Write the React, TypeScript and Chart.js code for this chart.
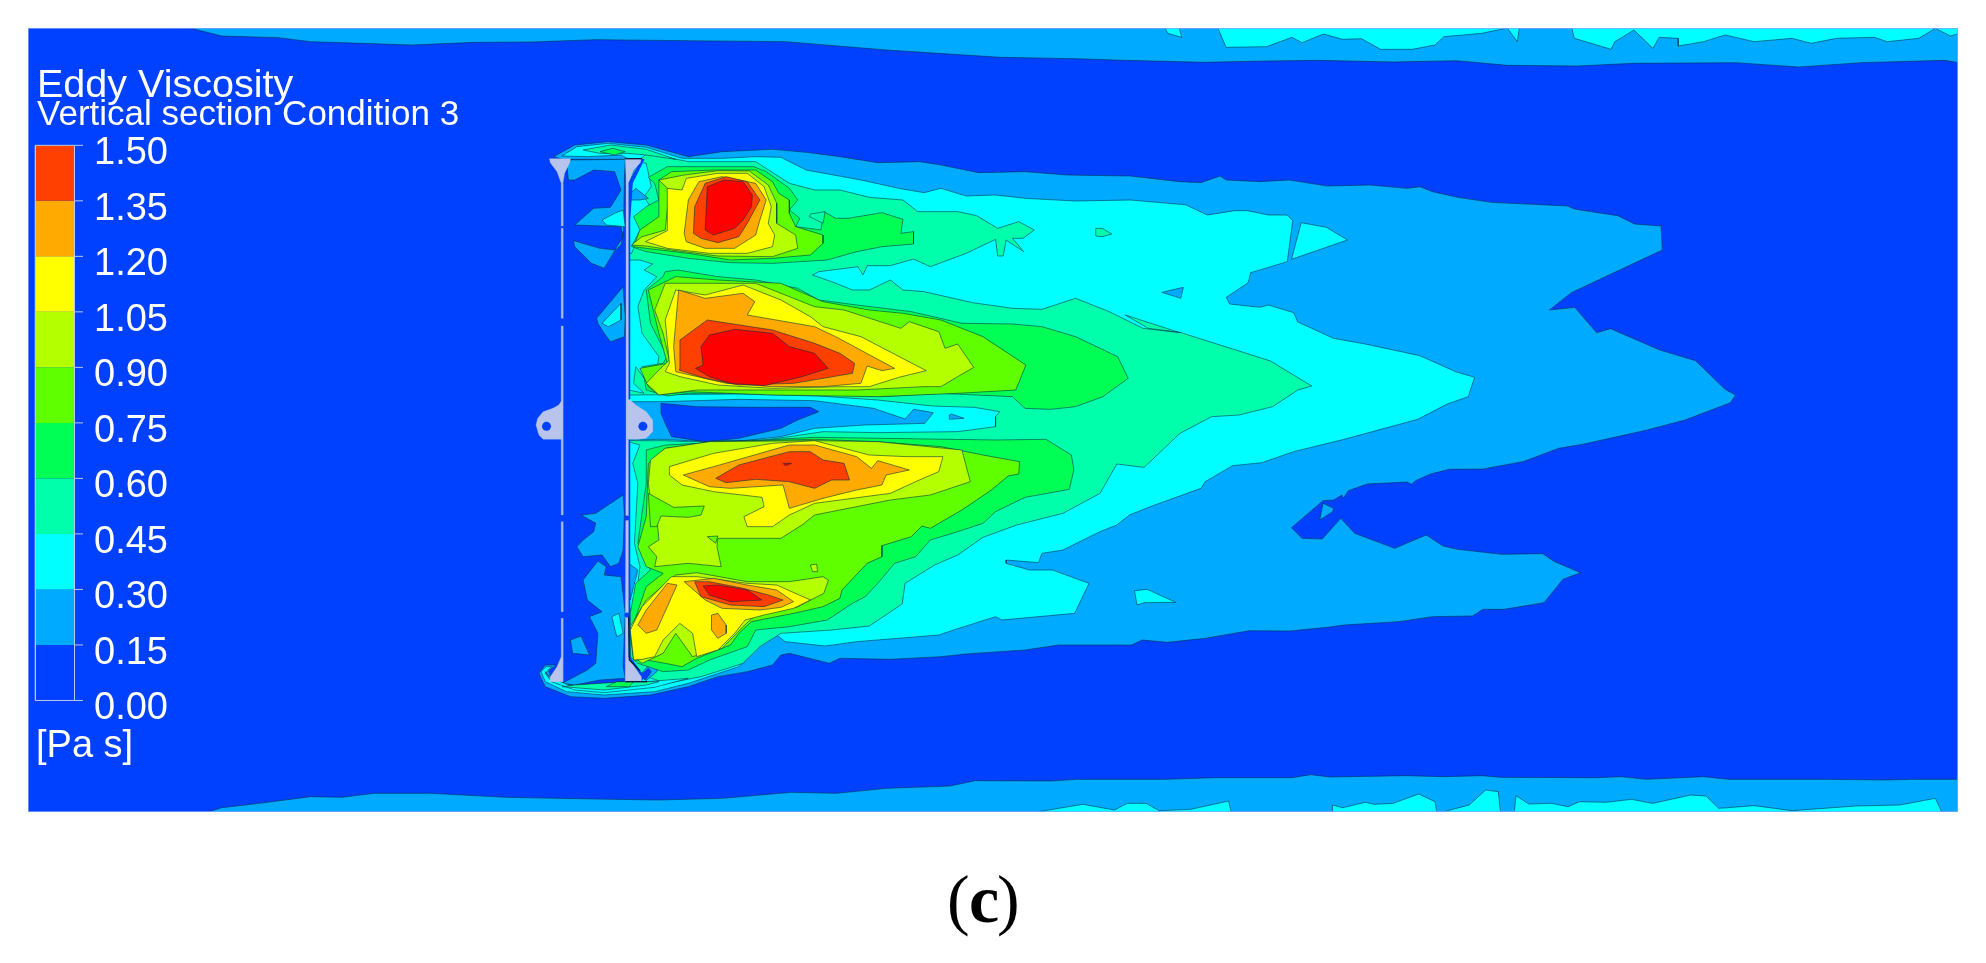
import React, { useEffect, useRef } from "react";
import { Chart, registerables } from "chart.js";

Chart.register(...registerables);

// ---------- colour legend ----------
const legendLevels = [0.0, 0.15, 0.3, 0.45, 0.6, 0.75, 0.9, 1.05, 1.2, 1.35, 1.5];
const legendTicks = ["0.00", "0.15", "0.30", "0.45", "0.60", "0.75", "0.90", "1.05", "1.20", "1.35", "1.50"];
const legendColors = ["#0040ff", "#00aaff", "#00ffff", "#00ffaa", "#00ff55", "#5fff00", "#b4ff00", "#ffff00", "#ffaa00", "#ff4000"];
const coreColor = "#ff0000";
const titleText = "Eddy Viscosity";
const subtitleText = "Vertical section Condition 3";
const unitText = "[Pa s]";

// ---------- contour outlines in the field's plane ----------
type P = number[];
const pairs = (a: P, fx: (x: number) => number, fy: (y: number) => number) => {
  const out: { x: number; y: number }[] = [];
  for (let i = 0; i < a.length; i += 2) out.push({ x: fx(a[i]), y: fy(a[i + 1]) });
  return out;
};
const A = (a: P) => pairs(a, (x) => 520 + x / 2.376, (y) => 120 + y / 3);
const B = (a: P) => pairs(a, (x) => 520 + x / 2.376, (y) => 400 + y / 3);
const C = (a: P) => pairs(a, (x) => 1100 + x / 2.376, (y) => 150 + y / 3);
const T = (a: P) => pairs(a, (x) => x * 1.26658, (y) => y / 3);
const U = (a: P) => pairs(a, (x) => x * 1.26658, (y) => 740 + y / 3);

const stripTop = [150,70, 150,84, 175,108, 220,113, 245,125, 285,130, 325,135, 375,127, 420,126, 470,119, 540,122, 620,125, 700,150, 790,172, 850,176, 880,180, 950,187, 1000,183, 1040,181, 1100,186, 1150,182, 1190,196, 1245,198, 1290,190, 1370,188, 1420,201, 1470,188, 1535,181, 1547,188, 1555,188, 1555,70];
const stripTopCyan1 = [918,70, 922,100, 933,112, 930,70];
const stripTopCyan2 = [960,70, 968,142, 1000,140, 1020,112, 1028,128, 1045,102, 1060,118, 1075,116, 1090,148, 1115,148, 1133,135, 1140,110, 1170,100, 1190,84, 1198,125, 1200,70];
const stripTopCyan3 = [1240,70, 1243,115, 1272,148, 1275,125, 1290,90, 1305,145, 1310,112, 1325,115, 1325,138, 1345,125, 1362,105, 1385,125, 1400,120, 1415,115, 1430,130, 1450,115, 1480,112, 1490,125, 1515,115, 1528,85, 1540,108, 1547,100, 1555,100, 1555,70];
const stripBottom = [165,232, 165,215, 175,203, 205,190, 245,170, 270,172, 295,160, 340,160, 400,172, 470,177, 520,180, 570,175, 625,157, 660,160, 700,145, 750,138, 770,122, 830,123, 850,118, 920,118, 960,113, 1020,113, 1035,104, 1050,111, 1110,107, 1140,110, 1170,107, 1185,112, 1260,113, 1280,110, 1300,118, 1345,110, 1365,118, 1440,118, 1490,120, 1510,118, 1555,118, 1555,232];
const stripBottomCyan1 = [820,232, 820,215, 855,193, 880,210, 890,190, 905,190, 915,212, 940,208, 970,183, 973,232];
const stripBottomCyan2 = [1052,232, 1052,195, 1060,203, 1078,187, 1085,193, 1100,190, 1120,162, 1133,185, 1135,232];
const stripBottomCyan3 = [1140,232, 1140,215, 1160,195, 1173,150, 1183,155, 1185,232];
const stripBottomCyan4 = [1195,232, 1197,167, 1207,192, 1225,190, 1238,200, 1247,185, 1268,187, 1288,178, 1305,190, 1335,165, 1347,168, 1357,205, 1385,197, 1415,212, 1465,198, 1500,195, 1528,175, 1535,232];

const band1Upper = [80,110, 130,75, 210,65, 300,75, 400,110, 480,95, 600,88, 680,97, 760,110, 850,128, 950,125, 1000,135, 1090,158, 1200,155, 1300,165, 1450,168, 1568,185];
const band1Far = [190,95, 240,98, 285,78, 300,90, 380,95, 450,90, 540,108, 640,105, 730,115, 760,110, 790,125, 850,142, 930,157, 1110,168, 1130,178, 1230,197, 1270,222, 1333,228, 1336,300, 1260,345, 1120,428, 1068,480, 1128,472, 1180,548, 1213,536, 1330,600, 1415,632, 1485,718, 1510,735, 1498,758, 1390,810, 1300,840, 1150,882, 1090,895, 1005,935, 910,957, 830,958, 785,972, 750,992, 740,1003, 730,996, 635,1002, 590,1022, 578,1045, 575,1035, 555,1050, 530,1052, 455,1133, 480,1165, 528,1167, 572,1105, 605,1150, 700,1195, 775,1155, 815,1188, 850,1198, 955,1213, 1052,1211, 1080,1235, 1142,1268, 1100,1288, 1055,1358, 960,1378, 910,1378, 885,1398, 790,1400, 710,1415, 580,1425, 540,1432, 450,1443, 355,1442, 250,1465, 160,1477, 100,1470, 75,1485, 0,1485];
const band1Lower = [1280,735, 1200,750, 1060,762, 1000,770, 880,778, 760,775, 735,790, 640,760, 620,765, 600,795, 540,815, 470,830, 400,860, 310,885, 200,895, 120,890, 60,860, 45,820, 60,795, 85,795, 68,812, 75,840, 120,855, 250,848, 258,845, 258,125];
const band1Close = [258,830, 258,118, 100,118];

const band2Upper = [100,108, 135,80, 210,70, 300,82, 385,115, 480,115, 560,110, 620,112, 680,150, 810,180, 900,205, 960,218, 1000,205, 1060,228, 1130,225, 1200,235, 1320,243, 1450,240, 1568,253];
const band2Far = [190,162, 205,165, 255,195, 320,182, 350,182, 400,195, 445,195, 458,212, 445,335, 358,368, 352,398, 300,442, 308,462, 380,472, 400,465, 460,488, 470,516, 555,565, 630,582, 760,617, 845,665, 890,682, 875,740, 825,762, 755,808, 580,868, 460,905, 385,938, 315,947, 250,995, 240,1015, 130,1065, 70,1095, 40,1125, 0,1145];
const band2Lower = [1290,450, 1240,460, 1232,488, 1155,480, 1155,490, 1210,510, 1265,510, 1352,550, 1318,640, 1145,660, 1130,650, 1030,690, 995,705, 800,725, 725,738, 630,725, 610,705, 570,735, 520,800, 400,850, 320,875, 200,885, 110,875, 60,845, 50,815, 62,800, 75,800, 60,820, 75,845, 130,862, 200,868, 250,850, 258,845, 258,125];
const band2Close = [258,830, 258,118, 240,105, 160,110];

const islandLow1 = [147,427, 198,412, 192,445];
const islandCyan1 = [478,218, 538,232, 588,270, 455,328];
const islandCyan2 = [82,1322, 112,1318, 180,1357, 105,1358, 88,1365];
const islandLow2 = [530,1060, 555,1075, 553,1085, 522,1110];
const islandTeal1 = [-10,235, 5,235, 28,252, 5,260, -10,258];
const islandWake1 = [1020,885, 1025,882, 1055,895, 1020,898];

const band3Upper = [300,100, 400,125, 560,125, 640,190, 700,210, 760,210, 830,232, 910,240, 945,275, 1040,275, 1085,287, 1135,325, 1185,305, 1222,330, 1195,355, 1170,355, 1197,395, 1155,360, 1148,408, 1135,408, 1130,358, 1060,400, 975,440, 935,417, 880,437, 825,437, 815,465, 803,440, 710,455, 695,465, 740,485, 790,510, 830,510, 880,480, 910,510, 960,515, 1075,548, 1170,565, 1240,568, 1320,535, 1400,575, 1480,625, 1568,638];
const band3Far = [60,495, 115,535, 190,547, 405,633, 503,708, 470,720, 410,770, 330,795, 265,800, 190,850, 105,952, 40,942, 0,1030];
const band3Lower = [1290,340, 1180,375, 1100,412, 1040,465, 985,495, 915,550, 908,612, 830,678, 740,690, 620,700, 570,740, 530,790, 430,830, 350,850, 300,830, 262,790, 258,500, 258,125];
const band3Close = [258,830, 258,400, 270,340, 285,120];
const wakeCyan = [258,-15, 520,-18, 710,-12, 850,0, 980,18, 1080,22, 1140,35, 1130,50, 1130,80, 1040,95, 850,98, 720,95, 640,110, 580,120, 400,125, 340,122, 258,122];
const wakeLow = [258,5, 340,5, 520,-2, 700,2, 840,25, 915,57, 935,28, 982,38, 962,70, 820,75, 700,85, 620,110, 530,122, 400,122, 330,118, 258,120];
const wakeHole = [335,10, 420,20, 560,22, 690,22, 710,35, 660,60, 620,85, 520,115, 440,125, 360,110, 345,70, 335,40];

const swirlCyan1 = [258,190, 280,125, 300,130, 312,200, 295,230, 312,265, 290,330, 265,400, 258,400];
const swirlLow1 = [258,225, 275,205, 305,235, 285,240, 258,240];
const swirlCyan2 = [258,420, 285,420, 315,432, 295,450, 325,470, 295,510, 280,560, 290,640, 330,710, 325,750, 295,775, 275,740, 270,790, 295,820, 258,810];
const swirlCyan3 = [258,125, 285,135, 268,190, 280,250, 272,430, 285,500, 275,600, 258,640];
const swirlLow2 = [258,490, 280,510, 262,600];
const swirlLow3 = [285,825, 310,790, 340,775, 325,815, 300,842];
const swirlHole = [285,828, 305,805, 312,815, 298,840];

const upper4 = [305,172, 350,140, 555,140, 585,155, 640,205, 660,240, 640,270, 665,295, 655,320, 715,330, 722,275, 750,295, 780,295, 860,278, 910,298, 905,340, 935,335, 935,372, 860,380, 800,395, 730,420, 600,430, 500,428, 400,415, 300,395, 265,380, 285,330, 270,290, 300,260, 330,240, 320,190];
const upperPocket = [690,282, 725,275, 720,310, 688,290];
const upper5 = [330,180, 360,155, 460,150, 560,150, 600,185, 615,220, 640,240, 640,280, 655,320, 720,345, 720,370, 690,405, 600,415, 500,420, 400,400, 300,385, 270,380, 285,330, 330,290];
const upper6 = [330,180, 390,165, 470,152, 545,153, 590,195, 610,250, 610,310, 655,345, 660,385, 600,410, 470,408, 360,390, 300,378, 265,375, 290,350, 345,330, 355,210];
const upper7 = [350,205, 385,210, 395,175, 470,160, 540,160, 580,200, 597,260, 590,310, 605,345, 600,380, 540,400, 450,400, 350,385, 298,365, 350,332, 350,270];
const upper8 = [390,340, 400,240, 425,185, 480,170, 560,190, 585,240, 570,300, 560,345, 510,385, 440,385, 395,365];
const upper9 = [412,340, 415,260, 440,190, 490,170, 540,185, 570,240, 540,310, 520,350, 470,368, 430,355];
const upperCore = [440,330, 445,200, 485,180, 530,185, 552,225, 550,260, 530,300, 510,325, 460,345];

const middle4 = [300,510, 340,470, 345,455, 375,450, 470,470, 560,480, 660,505, 710,540, 800,555, 930,575, 1050,610, 1170,612, 1240,620, 1320,650, 1420,710, 1445,775, 1385,830, 1320,860, 1260,868, 1200,865, 1170,830, 1000,820, 860,830, 600,820, 400,820, 350,828, 300,810, 290,740, 340,730, 350,710, 310,610];
const middle5 = [305,510, 370,470, 470,480, 620,490, 720,545, 830,570, 910,580, 1000,600, 1100,650, 1202,735, 1178,810, 1040,820, 850,830, 600,825, 400,815, 330,825, 305,800, 285,745, 350,730, 330,640];
const middle6 = [320,570, 345,490, 470,490, 560,490, 700,560, 770,570, 905,625, 925,605, 995,635, 1010,685, 1040,672, 1078,742, 1040,770, 1000,800, 960,800, 800,810, 600,810, 420,810, 330,825, 300,790, 330,750, 355,720, 340,640];
const middle7 = [345,600, 370,510, 440,525, 530,495, 620,540, 690,590, 720,620, 810,650, 965,752, 900,772, 830,800, 760,800, 600,805, 470,795, 380,770, 345,755, 355,730];
const middle8 = [365,680, 377,510, 440,535, 530,520, 558,545, 540,585, 700,620, 750,650, 890,745, 860,752, 825,738, 810,790, 720,800, 600,800, 490,790, 370,755];
const middle9 = [378,750, 380,660, 445,600, 600,630, 700,670, 760,700, 795,730, 790,760, 720,775, 650,790, 520,795, 440,775];
const middleCore = [417,745, 435,735, 430,680, 450,645, 510,628, 600,640, 640,680, 700,700, 732,745, 670,770, 580,797, 500,790, 450,770];

const lower4 = [300,150, 345,135, 700,112, 1130,120, 1250,118, 1310,165, 1316,210, 1305,268, 1200,292, 1130,335, 1100,370, 1040,395, 975,420, 940,470, 890,490, 850,550, 820,590, 790,610, 730,660, 640,680, 560,690, 540,740, 450,780, 400,810, 340,815, 280,790, 262,770, 262,640, 275,550, 310,510, 290,450, 280,430, 300,250];
const lower5 = [305,190, 345,145, 450,125, 700,118, 850,125, 1000,140, 1100,165, 1187,185, 1185,222, 1160,228, 1120,270, 1050,330, 975,385, 955,378, 930,410, 860,437, 860,470, 825,490, 765,570, 760,595, 720,620, 650,640, 550,665, 520,700, 500,735, 420,775, 385,800, 345,790, 300,780, 270,780, 262,700, 300,560, 340,520, 300,500, 280,440, 300,350];
const lower6 = [310,180, 345,145, 450,125, 700,122, 850,125, 1050,150, 1070,245, 975,285, 880,300, 800,320, 700,345, 670,375, 620,415, 470,415, 468,440, 478,500, 400,490, 320,500, 325,470, 305,440, 330,420, 325,350, 340,320, 310,300, 305,250];
const lowerPocket5 = [305,280, 365,322, 438,318, 430,345, 400,352, 335,348, 325,380, 310,380];
const lowerPocket5b = [445,410, 470,408, 465,430];
const lower7 = [355,200, 460,160, 600,130, 700,122, 830,165, 920,170, 1005,170, 995,215, 940,245, 880,280, 700,310, 640,345, 600,380, 540,380, 532,350, 580,320, 575,292, 460,275, 385,255, 355,225];
const lower8 = [388,225, 460,200, 640,135, 700,135, 800,170, 835,205, 850,182, 925,210, 870,225, 860,255, 800,270, 720,295, 640,325, 625,255, 500,265, 450,260];
const lower9 = [465,235, 520,195, 640,155, 690,155, 720,180, 770,190, 783,240, 740,240, 700,265, 640,245, 560,238, 490,248];
const lowerCoreSpot = [625,190, 645,190, 630,197];

const foot6 = [262,680, 300,600, 370,525, 420,518, 540,545, 640,545, 720,530, 733,540, 722,580, 660,620, 560,645, 530,680, 480,745, 410,770, 370,700, 340,760, 290,790, 270,770];
const foot7 = [270,780, 262,690, 290,620, 360,530, 420,530, 540,550, 610,555, 690,600, 650,625, 580,645, 535,660, 510,700, 470,750, 420,770, 410,700, 380,670, 340,720, 320,770, 290,778];
const foot8a = [280,675, 300,630, 350,550, 373,555, 350,620, 325,690, 300,700];
const foot8b = [390,545, 460,535, 540,555, 610,570, 650,605, 620,622, 570,630, 480,625, 440,600];
const foot8c = [455,645, 470,640, 490,675, 490,700, 470,715, 455,690];
const foot9 = [415,545, 450,545, 530,565, 590,585, 625,600, 580,620, 500,615, 430,590];
const footCore = [435,558, 470,555, 540,570, 575,600, 500,605, 450,585];
const footPocket6 = [690,495, 705,492, 707,515, 695,515];

const capTop3 = [150,90, 215,75, 300,88, 370,118, 300,105, 255,100, 190,100];
const capTop4 = [190,95, 220,85, 250,95, 225,105];
const capBottom2 = [60,815, 75,845, 130,870, 200,878, 320,862, 400,835, 300,845, 250,845, 120,858, 70,830];
const capBottom3 = [100,860, 200,870, 300,855, 330,845, 250,845, 130,855];
const capBottom4 = [205,860, 230,845, 270,845, 260,860];

const gapPatchTop = [110,120, 250,118, 248,180, 246,330, 240,375, 225,392, 200,445, 170,430, 130,380, 127,362, 190,385, 225,390, 245,350, 240,320, 130,315, 175,265, 215,262, 240,210, 225,155, 175,150, 130,180, 115,180];
const gapCyanTop = [195,300, 225,280, 245,270, 250,320, 205,315];
const gapPatchMid = [182,595, 245,500, 250,590, 248,650, 215,665, 200,640, 185,610];
const gapCyanMid = [195,610, 240,550, 240,600, 210,620];
const gapPatchLow = [145,345, 180,340, 245,285, 248,340, 245,450, 235,490, 215,500, 195,465, 150,470, 135,440, 150,420, 175,395, 180,370];
const gapPatchFoot = [150,540, 185,483, 205,500, 200,525, 240,530, 250,640, 245,800, 250,835, 190,840, 130,855, 100,850, 160,810, 180,790, 185,700, 165,650, 195,635, 160,600];
const gapPatchSpot = [120,720, 145,708, 165,765, 125,760];
const gapCyanFoot = [218,650, 235,640, 245,700, 230,710];

const plateLeftTop = [70,116, 120,116, 118,128, 106,160, 102,190, 102,318, 98,318, 98,190, 88,155, 72,128];
const plateLeftA = [98,325, 102,325, 102,595, 98,595];
const plateLeftB = [98,618, 102,618, 102,840, 98,840];
const plateLeftC = [98,0, 102,0, 102,345, 98,345];
const plateLeftD = [98,365, 102,365, 102,635, 98,635];
const plateLeftE = [98,655, 102,655, 102,845, 70,845, 72,830, 88,800, 98,770];
const plateLeftLug = [100,0, 92,15, 78,25, 55,35, 42,55, 38,75, 45,105, 55,118, 100,118];
const plateRightTop = [250,116, 288,116, 286,128, 270,150, 257,190, 257,840, 252,840, 252,170];
const plateRightLug = [252,0, 262,0, 275,15, 300,35, 315,60, 315,95, 300,115, 280,118, 252,118];
const plateRightStrip = [252,118, 257,118, 257,770, 272,800, 288,830, 288,845, 250,845];
const channelTop = [288,116, 296,118, 268,190, 262,300, 262,838, 257,838, 257,190];
const channelBottom = [257,118, 262,118, 262,770, 296,830, 288,845, 257,770];
const pinholes = [63,79, 292,79];
const gapPins = [254,354, 254,645];
const edgeDark = [258,640, 260,780, 285,812];
const edgeBottomDark = [250,845, 302,845];
const edgeTopDark = [250,116, 290,116];

const close = (p: { x: number; y: number }[]) => [...p, p[0]];

const c = legendColors;
const outline = "rgba(0,48,70,0.72)";
const layers: [string, { x: number; y: number }[]][] = [
  [c[1], T(stripTop)], [c[2], T(stripTopCyan1)], [c[2], T(stripTopCyan2)], [c[2], T(stripTopCyan3)],
  [c[1], U(stripBottom)], [c[2], U(stripBottomCyan1)], [c[2], U(stripBottomCyan2)], [c[2], U(stripBottomCyan3)], [c[2], U(stripBottomCyan4)],
  [c[1], [...A(band1Upper), ...C(band1Far), ...B(band1Lower), ...A(band1Close)]],
  [c[1], A(gapPatchTop)], [c[2], A(gapCyanTop)], [c[1], A(gapPatchMid)], [c[2], A(gapCyanMid)],
  [c[1], B(gapPatchLow)], [c[1], B(gapPatchFoot)], [c[1], B(gapPatchSpot)], [c[2], B(gapCyanFoot)],
  [c[2], [...A(band2Upper), ...C(band2Far), ...B(band2Lower), ...A(band2Close)]],
  [c[1], C(islandLow1)], [c[2], C(islandCyan1)], [c[2], C(islandCyan2)], [c[1], C(islandLow2)],
  [c[3], [...A(band3Upper), ...C(band3Far), ...B(band3Lower), ...A(band3Close)]],
  [c[3], C(islandTeal1)],
  [c[2], B(wakeCyan)], [c[1], B(wakeLow)], [c[0], B(wakeHole)], [c[1], A(islandWake1)],
  [c[2], A(swirlCyan1)], [c[1], A(swirlLow1)], [c[2], A(swirlCyan2)], [c[2], B(swirlCyan3)], [c[1], B(swirlLow2)],
  [c[1], B(swirlLow3)], [c[0], B(swirlHole)],
  [c[3], A(capTop3)], [c[4], A(capTop4)], [c[2], B(capBottom2)], [c[3], B(capBottom3)], [c[4], B(capBottom4)],
  [c[4], A(upper4)], [c[3], A(upperPocket)], [c[5], A(upper5)], [c[6], A(upper6)], [c[7], A(upper7)], [c[8], A(upper8)], [c[9], A(upper9)], [coreColor, A(upperCore)],
  [c[4], A(middle4)], [c[4], B(lower4)], [c[5], A(middle5)], [c[5], B(lower5)],
  [c[6], A(middle6)], [c[7], A(middle7)], [c[8], A(middle8)], [c[9], A(middle9)], [coreColor, A(middleCore)],
  [c[6], B(lower6)], [c[5], B(lowerPocket5)], [c[5], B(lowerPocket5b)], [c[7], B(lower7)], [c[8], B(lower8)], [c[9], B(lower9)], [coreColor, B(lowerCoreSpot)],
  [c[6], B(foot6)], [c[7], B(foot7)], [c[8], B(foot8a)], [c[8], B(foot8b)], [c[8], B(foot8c)], [c[9], B(foot9)], [coreColor, B(footCore)], [c[6], B(footPocket6)],
];

const plates: { x: number; y: number }[][] = [
  A(plateLeftTop), A(plateLeftA), A(plateLeftB), B(plateLeftC), B(plateLeftD), B(plateLeftE), B(plateLeftLug),
  A(plateRightTop), B(plateRightLug), B(plateRightStrip),
];

export default function App() {
  const ref = useRef<HTMLCanvasElement | null>(null);
  useEffect(() => {
    if (!ref.current) return;
    const poly = (data: any[], backgroundColor: string, borderColor: string, borderWidth: number, yAxisID = "y") => ({
      type: "scatter" as const, showLine: true, data: close(data), fill: "shape", backgroundColor, borderColor, borderWidth,
      pointRadius: 0, tension: 0, yAxisID,
    });
    const frame = [{ x: 28, y: 28 }, { x: 1958, y: 28 }, { x: 1958, y: 812 }, { x: 28, y: 812 }];
    const datasets: any[] = [];
    datasets.push(poly(frame, c[0], c[0], 0));
    for (const [col, pts] of layers) datasets.push(poly(pts, col, outline, 0.8));
    datasets.push(poly(A(channelTop), c[0], c[0], 0));
    datasets.push(poly(B(channelBottom), c[0], c[0], 0));
    for (const p of plates) datasets.push(poly(p, "#b8c4ec", "#b8c4ec", 0.3));
    for (const ln of [B(edgeDark), B(edgeBottomDark), A(edgeTopDark)]) {
      datasets.push({ type: "scatter", showLine: true, data: ln, borderColor: "#06203a", borderWidth: 1.4, pointRadius: 0, fill: false, tension: 0 });
    }
    datasets.push({ type: "scatter", data: B(pinholes), pointRadius: 4.5, pointBackgroundColor: c[0], pointBorderWidth: 0, showLine: false });
    datasets.push({ type: "scatter", data: B(gapPins), pointRadius: 2.5, pointBackgroundColor: c[0], pointBorderWidth: 0, showLine: false });
    // faint frame round the field
    datasets.push({ type: "scatter", showLine: true, data: close(frame), borderColor: "#7fa6ff", borderWidth: 1.5, pointRadius: 0, fill: false, tension: 0 });
    // legend bands, on the legend's own value axis
    legendColors.forEach((col, i) => {
      datasets.push(poly([{ x: 35.4, y: legendLevels[i] }, { x: 74.5, y: legendLevels[i] }, { x: 74.5, y: legendLevels[i + 1] }, { x: 35.4, y: legendLevels[i + 1] }], col, col, 0, "cb"));
    });
    datasets.push({ type: "scatter", showLine: true, yAxisID: "cb", data: close([{ x: 35.4, y: 0 }, { x: 74.5, y: 0 }, { x: 74.5, y: 1.5 }, { x: 35.4, y: 1.5 }]), borderColor: "#b9c8f4", borderWidth: 1, pointRadius: 0, fill: false, tension: 0 });
    legendLevels.forEach((v) => {
      datasets.push({ type: "scatter", showLine: true, yAxisID: "cb", data: [{ x: 74.5, y: v }, { x: 83, y: v }], borderColor: "#b9c8f4", borderWidth: 1, pointRadius: 0, fill: false });
    });
    datasets.forEach((d, i) => (d.order = datasets.length - i));

    const textPlugin = {
      id: "fieldText",
      afterDatasetsDraw(chart: any) {
        const g = chart.ctx as CanvasRenderingContext2D;
        const cb = chart.scales.cb;
        g.save();
        g.fillStyle = "#ffffff";
        g.textBaseline = "alphabetic";
        g.textAlign = "left";
        g.font = '39.5px "Liberation Sans"';
        g.fillText(titleText, 37, 97);
        g.font = '35px "Liberation Sans"';
        g.fillText(subtitleText, 37, 125);
        g.font = '38px "Liberation Sans"';
        legendTicks.forEach((t, i) => g.fillText(t, 94, cb.getPixelForValue(legendLevels[i]) + 19));
        g.fillText(unitText, 36, 757);
        g.fillStyle = "#000000";
        g.font = '68px "Liberation Serif"';
        g.fillText("(", 947, 922);
        g.fillText(")", 997, 922);
        g.font = 'bold 68px "Liberation Serif"';
        g.fillText("c", 969, 922);
        g.restore();
      },
    };

    const chart = new Chart(ref.current, {
      type: "scatter",
      data: { datasets },
      plugins: [textPlugin],
      options: {
        animation: false,
        responsive: false,
        layout: { padding: { left: 28, right: 28, top: 28, bottom: 151 } },
        plugins: { legend: { display: false }, tooltip: { enabled: false }, title: { display: false } },
        scales: {
          x: { type: "linear", min: 28, max: 1958, display: false },
          y: { type: "linear", min: 28, max: 812, reverse: true, display: false },
          cb: { type: "linear", min: -0.3014, max: 1.817, display: false },
        },
      },
    } as any);
    return () => chart.destroy();
  }, []);
  return (
    <div style={{ position: "absolute", left: 0, top: 0, width: 1986, height: 963, background: "#fff" }}>
      <canvas ref={ref} width={1986} height={963} style={{ display: "block" }} />
    </div>
  );
}
